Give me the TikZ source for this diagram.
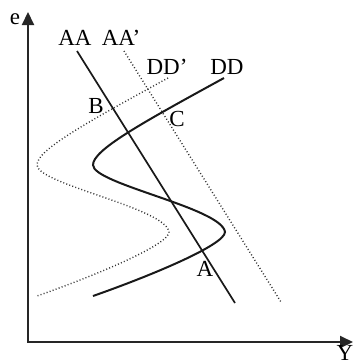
\documentclass[tikz,border=0pt]{standalone}
\usepackage{fontspec}
\setmainfont{Liberation Serif}
\usetikzlibrary{arrows.meta}

\begin{document}
\begin{tikzpicture}[
    x=0.5pt, y=-0.5pt,
    every node/.style={font=\fontsize{11.5}{13}\selectfont, inner sep=0pt},
    axis/.style={draw=black!85, line width=1pt,
                 {Triangle[length=6.5pt,width=6pt]}-{Triangle[length=6.5pt,width=6pt]}},
    curve/.style={draw=black!90, line width=1pt},
    line/.style={draw=black!90, line width=0.85pt},
    shifted/.style={draw=black!80, line width=0.7pt, dash pattern=on 0.5pt off 1.1pt},
]
\useasboundingbox (0,0) rectangle (353,364);

% axes
\coordinate (origin) at (28,342);
\coordinate (etop) at (28,12);
\coordinate (yend) at (353,342);
\draw[axis] (etop) -- (origin) -- (yend);
\node[anchor=base] (elabel) at (15,25) {e};
\node[anchor=base] (ylabel) at (345,360) {Y};

% AA schedules
\coordinate (aatop) at (77,51);
\coordinate (aabot) at (235,303);
\coordinate (aaptop) at (124,51);
\coordinate (aapbot) at (281,302);
\draw[line] (aatop) -- (aabot);
\draw[shifted] (aaptop) -- (aapbot);
\node[anchor=base] (aa) at (75,45) {AA};
\node[anchor=base] (aap) at (121,45) {AA'};

% DD schedules
\draw[curve] (224,78) .. controls (140,124) and (93,150) .. (93,165)
    .. controls (93,184) and (222,208) .. (225,232)
    .. controls (225,245) and (150,276) .. (93,296);
\draw[shifted] (168,78) .. controls (84,124) and (37,150) .. (37,165)
    .. controls (37,184) and (166,208) .. (169,232)
    .. controls (169,245) and (94,276) .. (37,296);
\node[anchor=base] (dd) at (227,74) {DD};
\node[anchor=base] (ddp) at (167,74) {DD'};

% equilibria
\node[anchor=base] (ptb) at (96,113) {B};
\node[anchor=base] (ptc) at (177,126) {C};
\node[anchor=base] (pta) at (205,276) {A};
\end{tikzpicture}
\end{document}
